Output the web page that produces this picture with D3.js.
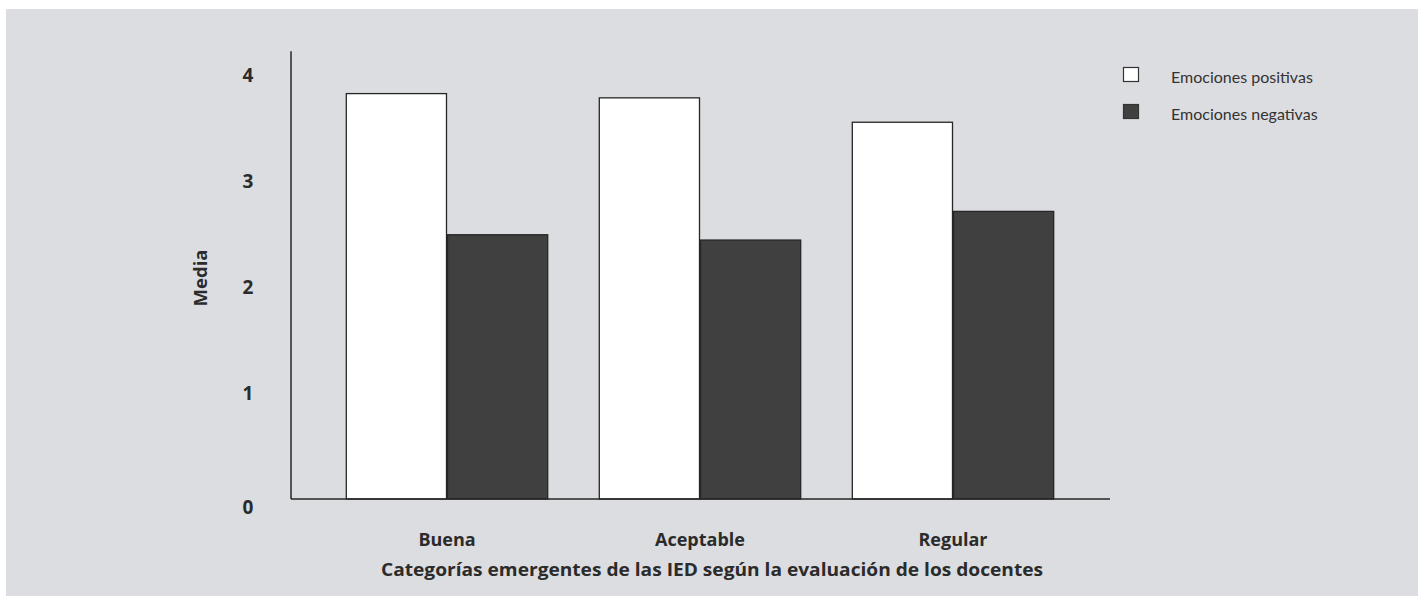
<!DOCTYPE html>
<html><head><meta charset="utf-8">
<script src="https://cdn.jsdelivr.net/npm/d3@7/dist/d3.min.js"></script>
<style>
html,body{margin:0;padding:0;background:#fff;}
svg{display:block;}
</style></head>
<body>
<svg id="chart" width="1418" height="596"></svg>
<script>
const categories = ["Buena", "Aceptable", "Regular"];
const seriesNames = ["Emociones positivas", "Emociones negativas"];
const positivas = [3.82, 3.78, 3.55];
const negativas = [2.49, 2.44, 2.71];
const yTicks = [0, 1, 2, 3, 4];
const yTitle = "Media";
const xTitle = "Categorías emergentes de las IED según la evaluación de los docentes";

const svg = d3.select("#chart");
const W = 1418, H = 596;
const txt = "#2b2b2b";

svg.append("rect").attr("x", 6).attr("y", 9).attr("width", W - 6).attr("height", H - 9).attr("fill", "#dcdde0");

const y = d3.scaleLinear().domain([0, 4]).range([499, 74.5]);
const x = d3.scaleBand().domain(categories).range([320.5, 1079.5]).paddingInner(0.2).paddingOuter(0.1);
const xs = d3.scaleBand().domain(seriesNames).range([0, x.bandwidth()]);
const color = d3.scaleOrdinal().domain(seriesNames).range(["#ffffff", "#404040"]);

const rows = categories.map((c, i) => ({cat: c, vals: [
  {s: seriesNames[0], v: positivas[i]},
  {s: seriesNames[1], v: negativas[i]}
]}));

const g = svg.append("g");
g.selectAll("g.grp").data(rows).join("g").attr("class", "grp")
  .attr("transform", d => `translate(${x(d.cat)},0)`)
  .selectAll("rect").data(d => d.vals).join("rect")
  .attr("x", d => xs(d.s) + 0.5)
  .attr("width", xs.bandwidth() - 1)
  .attr("y", d => y(d.v))
  .attr("height", d => y(0) - y(d.v))
  .attr("fill", d => color(d.s))
  .attr("stroke", "#262626").attr("stroke-width", 1.3);

// axes lines
const x0 = 291, x1 = 1110;
svg.append("line").attr("x1", x0).attr("x2", x0).attr("y1", y(4.22)).attr("y2", y(0))
  .attr("stroke", "#262626").attr("stroke-width", 1.5);
svg.append("line").attr("x1", x0).attr("x2", x1).attr("y1", y(0)).attr("y2", y(0))
  .attr("stroke", "#262626").attr("stroke-width", 1.5);

// y tick labels
const yAxis = d3.axisLeft(y).tickValues(yTicks).tickSize(0).tickPadding(0).tickFormat(d3.format("d"));
const ya = svg.append("g").attr("transform", "translate(248,0)").call(yAxis);
ya.select(".domain").remove();
ya.selectAll("text").attr("fill", txt).attr("font-family", "Open Sans, sans-serif")
  .attr("font-weight", "bold").attr("font-size", 19).attr("text-anchor", "middle")
  .attr("dy", d => d === 0 ? "0.78em" : "0.36em");

// x tick labels
const xAxis = d3.axisBottom(x).tickSize(0).tickPadding(0);
const xa = svg.append("g").attr("transform", "translate(0,546)").call(xAxis);
xa.select(".domain").remove();
xa.selectAll("text").attr("fill", txt).attr("font-family", "Open Sans, sans-serif")
  .attr("font-weight", "bold").attr("font-size", 18).attr("dy", 0);

// titles
svg.append("text").attr("x", 712).attr("y", 576).attr("text-anchor", "middle")
  .attr("fill", txt).attr("font-family", "Open Sans, sans-serif").attr("font-weight", "bold")
  .attr("font-size", 18.5).attr("textLength", 662).attr("lengthAdjust", "spacingAndGlyphs").text(xTitle);
svg.append("text").attr("transform", "translate(207,278) rotate(-90)").attr("text-anchor", "middle")
  .attr("fill", txt).attr("font-family", "Open Sans, sans-serif").attr("font-weight", "bold")
  .attr("font-size", 18.5).text(yTitle);

// legend
const lg = svg.append("g").selectAll("g").data(seriesNames).join("g")
  .attr("transform", (d, i) => `translate(1123,${67 + i * 37})`);
lg.append("rect").attr("x", 0.5).attr("y", 0.5).attr("width", 15).attr("height", 14)
  .attr("fill", d => color(d)).attr("stroke", "#333").attr("stroke-width", 1.2);
lg.append("text").attr("x", 48).attr("y", 16).attr("fill", "#333")
  .attr("font-family", "Lato, sans-serif").attr("font-size", 16).text(d => d);
</script>
</body></html>
